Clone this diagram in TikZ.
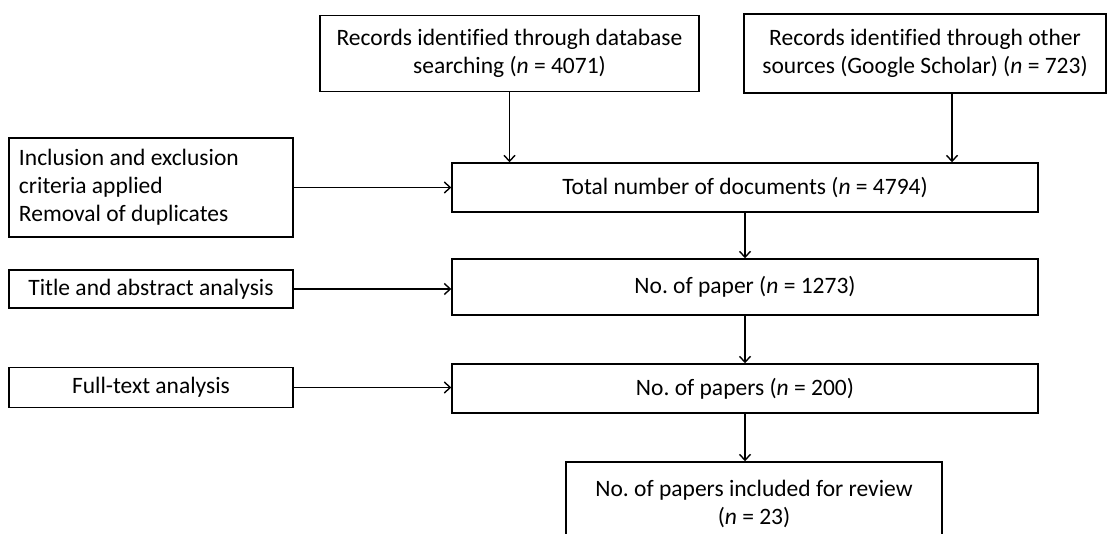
\documentclass[tikz,border=0pt]{standalone}
\usepackage{fontspec}
\setmainfont[Ligatures=NoCommon]{Carlito}
\usetikzlibrary{arrows.meta}
\frenchspacing
\begin{document}
\begin{tikzpicture}[x=1pt,y=-1pt,
  box/.style={draw,line width=1.4pt,inner sep=0pt,align=center,font=\fontsize{23.5}{28}\selectfont\frenchspacing},
  arr/.style={line width=1.4pt,-{Straight Barb[length=6pt,width=11pt]}}]
\useasboundingbox (0,0) rectangle (1108,534);
\clip (0,0) rectangle (1108,534);
\node[box,minimum width=379pt,minimum height=76pt] (A) at (509.5,53.5)
  {Records identified through database\\searching (\textit{n} = 4071)};
\node[box,minimum width=362pt,minimum height=79pt] (B) at (925,53.5)
  {Records identified through other\\sources (Google Scholar) (\textit{n} = 723)};
\node[box,minimum width=284pt,minimum height=99pt,text width=264pt,align=flush left] (C) at (151,187.5)
  {Inclusion and exclusion\\criteria applied\\Removal of duplicates};
\node[box,minimum width=284pt,minimum height=38pt] (D) at (151,289)
  {Title and abstract analysis};
\node[box,minimum width=284pt,minimum height=40pt] (E) at (151,387.5)
  {Full-text analysis};
\node[box,minimum width=586pt,minimum height=49pt] (T) at (745,187.5)
  {Total number of documents (\textit{n} = 4794)};
\node[box,minimum width=586pt,minimum height=56pt] (P1) at (745,287)
  {No. of paper (\textit{n} = 1273)};
\node[box,minimum width=586pt,minimum height=49pt] (P2) at (745,388.5)
  {No. of papers (\textit{n} = 200)};
\node[box,minimum width=376pt,minimum height=84pt] (F) at (754,504)
  {No. of papers included for review\\(\textit{n} = 23)};
\draw[arr] (A.south) -- (A.south |- T.north);
\draw[arr] ([xshift=27pt]B.south) -- ([xshift=27pt]B.south |- T.north);
\draw[arr] (C.east) -- (C.east -| T.west);
\draw[arr] (D.east) -- (D.east -| P1.west);
\draw[arr] (E.east) -- (E.east -| P2.west);
\draw[arr] (T.south) -- (P1.north);
\draw[arr] (P1.south) -- (P2.north);
\draw[arr] (P2.south) -- (P2.south |- F.north);
\end{tikzpicture}
\end{document}
